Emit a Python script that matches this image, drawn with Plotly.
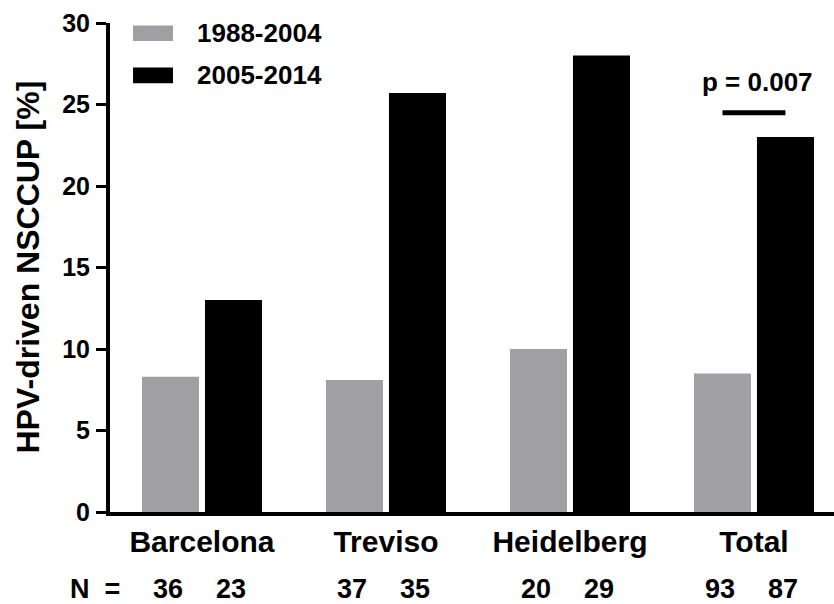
import plotly.graph_objects as go

sites = ['Barcelona', 'Treviso', 'Heidelberg', 'Total']
periods = ['1988-2004', '2005-2014']
colors = ['#a0a0a4', '#000000']
early = [8.3, 8.1, 10.0, 8.5]
late = [13.0, 25.7, 28.0, 23.0]
n_early = [36, 37, 20, 93]
n_late = [23, 35, 29, 87]
p_text = 'p = 0.007'
p_height = 24.5

FONT = 'Liberation Sans, Arial, sans-serif'
off = 0.171  # half a bar slot, in category units

fig = go.Figure()
for name, vals, col in zip(periods, [early, late], colors):
    fig.add_trace(go.Bar(x=list(range(len(sites))), y=vals, name=name,
                         marker=dict(color=col, line=dict(width=0)),
                         showlegend=False))

fig.update_layout(
    width=834, height=604,
    margin=dict(l=110, r=0, t=23, b=92),
    plot_bgcolor='white', paper_bgcolor='white',
    barmode='group', bargap=0.315, bargroupgap=0.095,
    font=dict(family=FONT, color='black'),
)
fig.update_xaxes(range=[-0.5, 3.435], tickmode='array',
                 tickvals=list(range(len(sites))),
                 ticktext=['<b>%s</b>' % s for s in sites],
                 tickfont=dict(size=30), ticks='', ticklabelstandoff=0,
                 showline=True, linecolor='black', linewidth=4,
                 showgrid=False, zeroline=False)
fig.update_yaxes(range=[0, 30], tickvals=[0, 5, 10, 15, 20, 25, 30],
                 ticktext=['<b>%d</b>' % v for v in [0, 5, 10, 15, 20, 25, 30]],
                 tickfont=dict(size=25), ticks='outside', ticklen=10,
                 tickwidth=3, tickcolor='black', ticklabelstandoff=1,
                 showline=True, linecolor='black', linewidth=4,
                 showgrid=False, zeroline=False)

# y-axis title
fig.add_annotation(text='<b>HPV-driven NSCCUP [%]</b>', xref='paper', yref='paper',
                   x=-0.1146, y=0.5, xanchor='center', yanchor='middle',
                   textangle=-90, showarrow=False, font=dict(size=32))

# N row (below the plot, in paper units)
n_y = (512 - 588.5) / 489
fig.add_annotation(text='<b>N  =</b>', x=(95 - 110) / 724, y=n_y, xref='paper',
                   yref='paper', xanchor='center', yanchor='middle',
                   showarrow=False, font=dict(size=27))
for i in range(len(sites)):
    for dx, n in [(-off, n_early[i]), (off, n_late[i])]:
        fig.add_annotation(text='<b>%d</b>' % n, x=i + dx - 0.015, y=n_y,
                           xref='x', yref='paper', xanchor='center',
                           yanchor='middle', showarrow=False, font=dict(size=27))

# significance bar
fig.add_shape(type='line', x0=3 - off, x1=3 + off, y0=p_height, y1=p_height,
              xref='x', yref='y', line=dict(color='black', width=5))
fig.add_annotation(text='<b>%s</b>' % p_text, x=3.02, y=26.4, xref='x', yref='y',
                   showarrow=False, font=dict(size=26))

# legend drawn as swatches
for k, (name, col) in enumerate(zip(periods, colors)):
    y0 = [0.963, 0.877][k]
    fig.add_shape(type='rect', xref='paper', yref='paper', x0=0.0318, x1=0.087,
                  y0=y0, y1=y0 + 0.032, fillcolor=col, line=dict(width=0))
    fig.add_annotation(text='<b>%s</b>' % name, xref='paper', yref='paper',
                       x=0.117, y=y0 + 0.016, xanchor='left', yanchor='middle',
                       showarrow=False, font=dict(size=26))

fig.write_html('out.html', config={'displayModeBar': False},
               post_script="document.body.style.margin='0';document.body.style.overflow='hidden';")
